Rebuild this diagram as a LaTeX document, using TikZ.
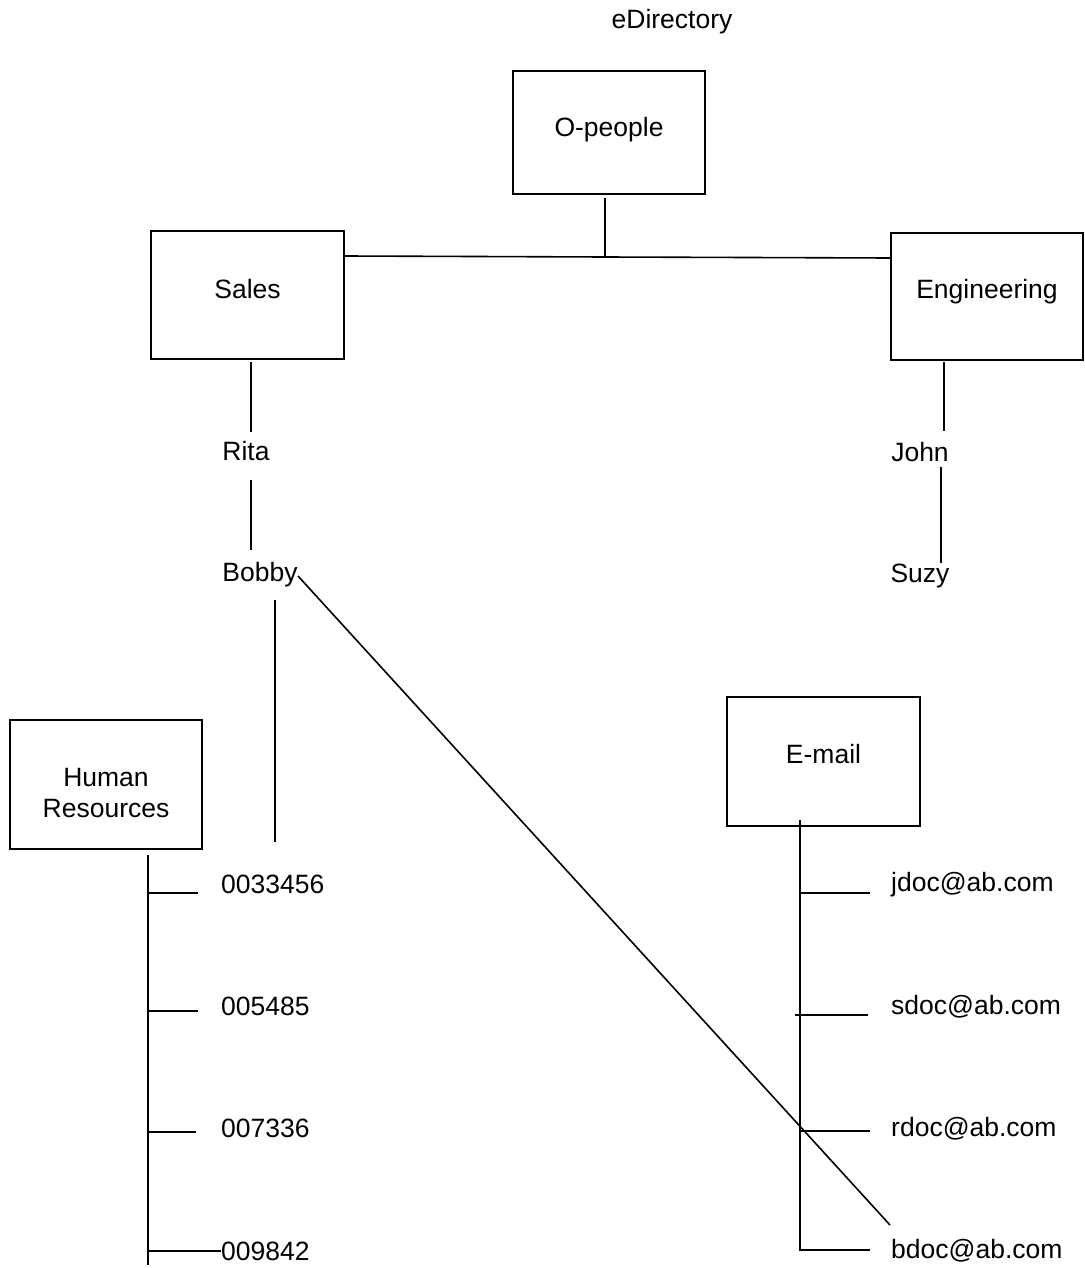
\documentclass[tikz,border=0pt]{standalone}
\usepackage{fontspec}
\setmainfont{Liberation Sans}
\newcommand{\shiftup}[2]{\raisebox{#1}[\height][\depth]{#2}}
\begin{document}
\begin{tikzpicture}[x=1pt,y=-1pt,
  line/.style={draw=black,line width=1.6pt},
  box/.style={draw=black,line width=1.6pt,rectangle,inner sep=0pt,align=center,font=\fontsize{26.5}{31}\selectfont},
  lbl/.style={inner sep=0pt,font=\fontsize{26.5}{31}\selectfont},
  lbll/.style={lbl,anchor=west}]
\useasboundingbox[fill=white] (0,0) rectangle (1084,1268);
% title
\node[lbl] (title) at (672,22) {eDirectory};
% boxes
\node[box,minimum width=192pt,minimum height=123pt] (opeople) at (609,132.5) {\shiftup{3pt}{O-people}};
\node[box,minimum width=193pt,minimum height=128pt] (sales) at (247.5,295) {\shiftup{6pt}{Sales}};
\node[box,minimum width=192pt,minimum height=127pt] (eng) at (987,296.5) {\shiftup{5pt}{Engineering}};
\node[box,minimum width=192pt,minimum height=129pt] (hr) at (106,784.5) {\shiftup{-11pt}{\begin{tabular}{@{}c@{}}Human\\Resources\end{tabular}}};
\node[box,minimum width=193pt,minimum height=129pt] (email) at (823.5,761.5) {\shiftup{7pt}{E-mail}};
% people
\node[lbl] (rita) at (246,451) {Rita};
\node[lbl] (bobby) at (260,575) {Bobby};
\node[lbl] (john) at (920,452) {John};
\node[lbl] (suzy) at (920,576) {Suzy};
% numbers
\node[lbll] (n1) at (221,884) {0033456};
\node[lbll] (n2) at (221,1006) {005485};
\node[lbll] (n3) at (221,1128) {007336};
\node[lbll] (n4) at (221,1251) {009842};
% emails
\node[lbll] (e1) at (891,885) {jdoc@ab.com};
\node[lbll] (e2) at (891,1007) {sdoc@ab.com};
\node[lbll] (e3) at (891,1129) {rdoc@ab.com};
\node[lbll] (e4) at (891,1251) {bdoc@ab.com};
% coordinates
\coordinate (optop) at (605,198);
\coordinate (bus) at (605,257);
\coordinate (salesR) at (345,256);
\coordinate (engL) at (891,258);
\coordinate (s1) at (251,362); \coordinate (s2) at (251,432);
\coordinate (r1) at (251,480); \coordinate (r2) at (251,550);
\coordinate (b1) at (275,600); \coordinate (b2) at (275,842);
\coordinate (d1) at (298,576); \coordinate (d2) at (890,1225);
\coordinate (g1) at (944,362); \coordinate (g2) at (944,431);
\coordinate (j1) at (941,467); \coordinate (j2) at (941,563);
\coordinate (hrtop) at (148,855); \coordinate (hrbot) at (148,1265);
\coordinate (h1) at (148,893); \coordinate (h1e) at (198,893);
\coordinate (h2) at (148,1011); \coordinate (h2e) at (198,1011);
\coordinate (h3) at (148,1132); \coordinate (h3e) at (196,1132);
\coordinate (h4) at (148,1251);
\coordinate (emtop) at (800,820); \coordinate (embot) at (800,1250);
\coordinate (m1) at (800,893); \coordinate (m1e) at (870,893);
\coordinate (m2) at (795,1015); \coordinate (m2e) at (868,1015);
\coordinate (m3) at (800,1131); \coordinate (m3e) at (870,1131);
\coordinate (m4e) at (870,1250);
% connectors
\draw[line] (optop) -- (bus);
\draw[line] (salesR) -- (bus) -- (engL);
\draw[line] (s1) -- (s2);
\draw[line] (r1) -- (r2);
\draw[line] (b1) -- (b2);
\draw[line] (d1) -- (d2);
\draw[line] (g1) -- (g2);
\draw[line] (j1) -- (j2);
\draw[line] (hrtop) -- (hrbot);
\draw[line] (h1) -- (h1e);
\draw[line] (h2) -- (h2e);
\draw[line] (h3) -- (h3e);
\draw[line] (h4) -- (n4.west);
\draw[line] (emtop) -- (embot) -- (m4e);
\draw[line] (m1) -- (m1e);
\draw[line] (m2) -- (m2e);
\draw[line] (m3) -- (m3e);
\end{tikzpicture}
\end{document}
